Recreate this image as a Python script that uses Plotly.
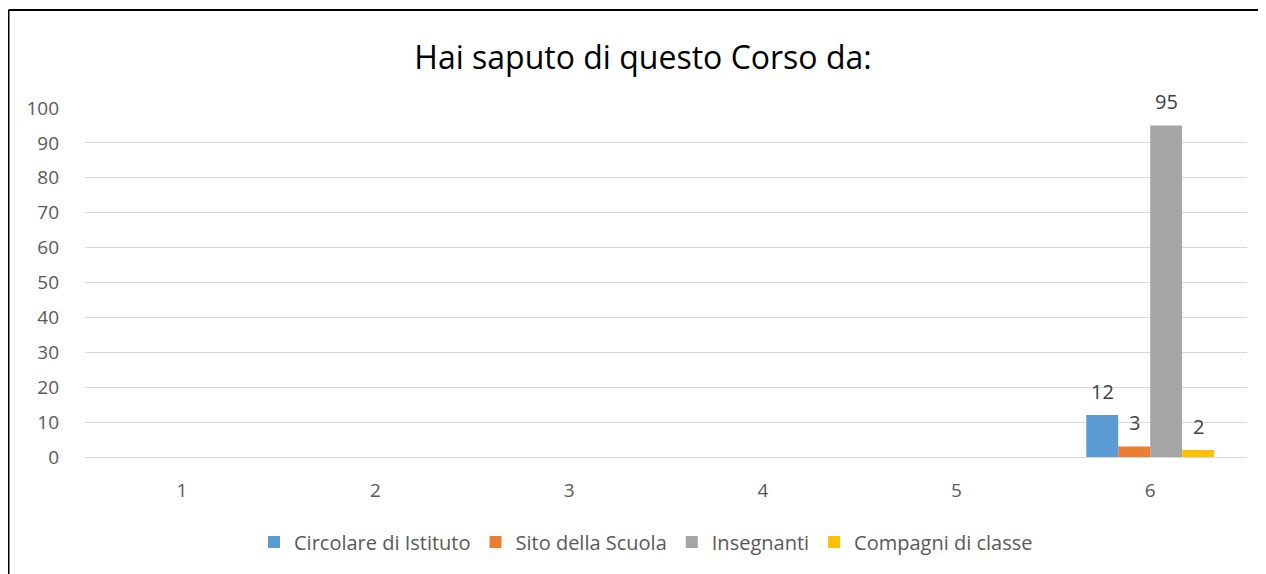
import plotly.graph_objects as go

categories = ["1", "2", "3", "4", "5", "6"]
series_names = ["Circolare di Istituto", "Sito della Scuola", "Insegnanti", "Compagni di classe"]
circolare = [None, None, None, None, None, 12]
sito = [None, None, None, None, None, 3]
insegnanti = [None, None, None, None, None, 95]
compagni = [None, None, None, None, None, 2]
colors = ["#5B9BD5", "#ED7D31", "#A5A5A5", "#FFC000"]

FONT = "Open Sans, Liberation Sans, sans-serif"
# figure is placed at (8,8) in the page by the default body margin
W, H = 1258, 566
ML, MR, MT, MB = 77, 19, 100, 117
pw = W - ML - MR
ph = H - MT - MB
BAR_PX = 32  # approximate bar width in px for label offsets

fig = go.Figure()
all_series = [circolare, sito, insegnanti, compagni]
for name, vals, col in zip(series_names, all_series, colors):
    fig.add_trace(go.Bar(
        x=categories, y=vals, name=name, marker=dict(color=col, line=dict(width=0)),
    ))

# data labels above the bars (x given as category index on the category axis)
n = len(all_series)
for i, vals in enumerate(all_series):
    for ci, v in enumerate(vals):
        if v is None:
            continue
        fig.add_annotation(
            x=ci, y=v, xref="x", yref="y", text=str(v), showarrow=False,
            xshift=(i - (n - 1) / 2) * BAR_PX, yshift=24, yanchor="middle",
            font=dict(family=FONT, size=20, color="#404040"),
        )

def px_x(px):
    return (px - ML) / pw

def px_y(py):
    return (H - MB - py) / ph

# chart border (left and top edges visible)
fig.add_shape(type="line", xref="paper", yref="paper",
              x0=px_x(0.5), x1=px_x(0.5), y0=px_y(2), y1=px_y(H + 5),
              line=dict(color="black", width=2))
fig.add_shape(type="line", xref="paper", yref="paper",
              x0=px_x(0.5), x1=px_x(W + 5), y0=px_y(2), y1=px_y(2),
              line=dict(color="black", width=2))

fig.update_layout(
    width=W, height=H,
    margin=dict(l=ML, r=MR, t=MT, b=MB),
    paper_bgcolor="white", plot_bgcolor="white",
    barmode="group", bargap=0.34, bargroupgap=0,
    title=dict(text="Hai saputo di questo Corso da:", x=(643 - 8 - ML) / pw, xref="paper", xanchor="center",
               y=1 - 50 / H, yanchor="middle",
               font=dict(family=FONT, size=32, color="#000000")),
    font=dict(family=FONT, size=19, color="#595959"),
    xaxis=dict(type="category", categoryorder="array", categoryarray=categories,
               range=[-0.5, len(categories) - 0.5],
               showgrid=False, showline=False, ticks="", tickfont=dict(size=19, color="#595959"),
               ticklabelstandoff=20),
    yaxis=dict(range=[0, 100], dtick=10, showgrid=True, gridcolor="#D9D9D9", gridwidth=1,
               zeroline=True, zerolinecolor="#D9D9D9", zerolinewidth=1, showline=False,
               ticks="", tickfont=dict(size=19, color="#595959"), ticklabelstandoff=25),
    legend=dict(orientation="h", x=(646 - 8 - ML) / pw, xanchor="center", xref="paper",
                y=px_y(534), yanchor="middle",
                font=dict(size=20, color="#595959"), itemwidth=30,
                traceorder="normal"),
    showlegend=True,
)

fig.write_html("out.html")
